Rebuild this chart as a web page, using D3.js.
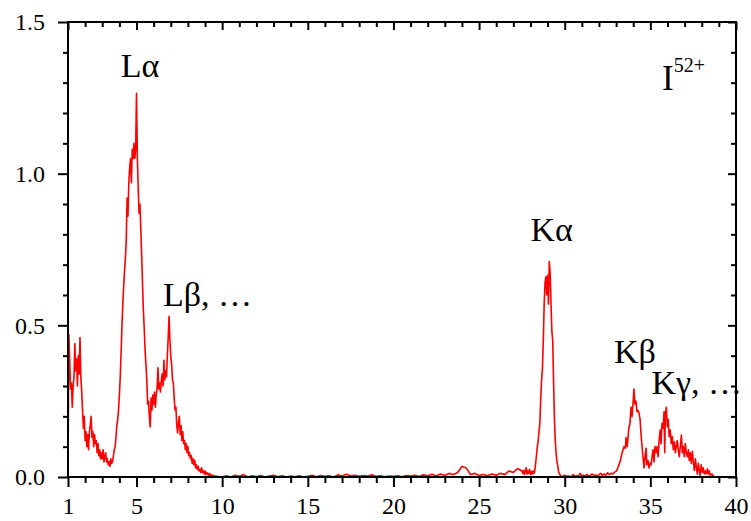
<!DOCTYPE html>
<html>
<head>
<meta charset="utf-8">
<script src="https://cdn.jsdelivr.net/npm/d3@7"></script>
<style>
  html, body { margin: 0; padding: 0; background: #fff; }
  svg { display: block; }
</style>
</head>
<body>
<svg id="chart" width="751" height="521"></svg>
<script>
// ---------- DATA ----------
// X-ray spectrum of I52+ (photon energy in keV vs intensity)
const xTickLabels = [1, 5, 10, 15, 20, 25, 30, 35, 40];
const yTickLabels = [0.0, 0.5, 1.0, 1.5];

// L-shell region: 1.00 .. 10.00 keV, step 0.05
const lStart = 1.0, lStep = 0.05;
const lValues = [
  0.00, 0.47, 0.38, 0.29, 0.31, 0.23, 0.30, 0.33, 0.44, 0.35,
  0.39, 0.30, 0.40, 0.34, 0.46, 0.33, 0.28, 0.22, 0.16, 0.20,
  0.12, 0.15, 0.10, 0.14, 0.09, 0.15, 0.17, 0.20, 0.13, 0.15,
  0.10, 0.14, 0.11, 0.12, 0.08, 0.11, 0.07, 0.09, 0.06, 0.08,
  0.06, 0.09, 0.05, 0.07, 0.08, 0.05, 0.06, 0.04, 0.05, 0.035,
  0.06, 0.045, 0.05, 0.07, 0.09, 0.10, 0.13, 0.17, 0.19, 0.22,
  0.27, 0.33, 0.41, 0.50, 0.57, 0.63, 0.68, 0.72, 0.78, 0.92,
  0.86, 0.97, 1.02, 1.05, 0.97, 1.08, 1.05, 1.10, 1.05, 1.08,
  1.265, 1.05, 0.95, 0.87, 0.90, 0.82, 0.73, 0.64, 0.55, 0.49,
  0.42, 0.37, 0.32, 0.24, 0.25, 0.20, 0.165, 0.26, 0.22, 0.27,
  0.24, 0.28, 0.23, 0.27, 0.29, 0.36, 0.29, 0.31, 0.28, 0.32,
  0.34, 0.30, 0.385, 0.32, 0.35, 0.33, 0.40, 0.46, 0.53, 0.45,
  0.40, 0.37, 0.32, 0.31, 0.26, 0.22, 0.23, 0.17, 0.145, 0.18,
  0.20, 0.14, 0.17, 0.12, 0.15, 0.11, 0.12, 0.09, 0.11, 0.08,
  0.10, 0.07, 0.08, 0.06, 0.07, 0.045, 0.06, 0.04, 0.055, 0.03,
  0.04, 0.025, 0.035, 0.02, 0.025, 0.015, 0.03, 0.015, 0.02, 0.01,
  0.02, 0.008, 0.015, 0.01, 0.005, 0.012, 0.004, 0.008, 0.003, 0.006,
  0.002, 0.004, 0.001, 0.003, 0.001, 0.002, 0.0, 0.001, 0.0, 0.001,
  0.0
];

// Quiet region: 10.25 .. 27.5 keV, step 0.25
const midStart = 10.25, midStep = 0.25;
const midValues = [
  0.004, 0.0, 0.006, 0.002, 0.008, 0.0, 0.004, 0.001, 0.005, 0.0,
  0.003, 0.006, 0.001, 0.004, 0.0, 0.003, 0.001, 0.004, 0.0, 0.002,
  0.006, 0.001, 0.005, 0.002, 0.004, 0.0, 0.007, 0.003, 0.009, 0.004,
  0.006, 0.002, 0.005, 0.003, 0.007, 0.002, 0.004, 0.001, 0.003, 0.002,
  0.004, 0.001, 0.005, 0.003, 0.006, 0.002, 0.007, 0.004, 0.009, 0.003,
  0.01, 0.005, 0.012, 0.008, 0.015, 0.035, 0.03, 0.008, 0.012, 0.005,
  0.008, 0.004, 0.01, 0.006, 0.012, 0.008, 0.02, 0.015, 0.028, 0.02
];

// K-alpha region: 27.55 .. 29.80 keV, step 0.05
const kaStart = 27.55, kaStep = 0.05;
const kaValues = [
  0.012, 0.022, 0.008, 0.018, 0.03, 0.01, 0.02, 0.012, 0.025, 0.008,
  0.018, 0.01, 0.02, 0.012, 0.02, 0.045, 0.07, 0.10, 0.12, 0.15,
  0.18, 0.26, 0.32, 0.36, 0.45, 0.57, 0.64, 0.66, 0.60, 0.665,
  0.57, 0.71, 0.67, 0.57, 0.48, 0.45, 0.31, 0.19, 0.12, 0.075,
  0.05, 0.035, 0.015, 0.01, 0.005, 0.003
];

// Quiet region: 29.9 .. 32.9 keV, step 0.1
const gapStart = 29.9, gapStep = 0.1;
const gapValues = [
  0.002, 0.006, 0.001, 0.004, 0.0, 0.003, 0.008, 0.002, 0.005, 0.001,
  0.012, 0.004, 0.006, 0.002, 0.009, 0.003, 0.005, 0.01, 0.004, 0.007,
  0.003, 0.008, 0.012, 0.005, 0.01, 0.006, 0.014, 0.008, 0.012, 0.01, 0.015
];

// K-beta / K-gamma region (energies in keV)
const kbEnergy = [
  33.03, 33.13, 33.23, 33.35, 33.46, 33.54, 33.58, 33.65, 33.74, 33.81,
  33.87, 33.93, 33.99, 34.04, 34.10, 34.16, 34.22, 34.28, 34.34, 34.40,
  34.47, 34.53, 34.59, 34.63, 34.69, 34.75, 34.79, 34.86, 34.92, 34.98,
  35.04, 35.10, 35.16, 35.21, 35.27, 35.33, 35.39, 35.45, 35.51, 35.57,
  35.62, 35.68, 35.74, 35.80, 35.84, 35.87, 35.93, 35.99, 36.04, 36.10,
  36.16, 36.22, 36.28, 36.34, 36.40, 36.46, 36.51, 36.57, 36.63, 36.69,
  36.75, 36.81, 36.87, 36.92, 36.98, 37.04, 37.10, 37.16, 37.22, 37.27,
  37.33, 37.39, 37.45, 37.51, 37.57, 37.63, 37.68, 37.74, 37.80, 37.86,
  37.90, 37.97, 38.03, 38.09, 38.15, 38.21, 38.27, 38.33, 38.38, 38.44,
  38.50, 38.60, 38.72
];
const kbValues = [
  0.02, 0.035, 0.05, 0.08, 0.10, 0.095, 0.13, 0.10, 0.16, 0.177,
  0.23, 0.20, 0.243, 0.29, 0.24, 0.25, 0.215, 0.22, 0.21, 0.19,
  0.13, 0.09, 0.055, 0.03, 0.067, 0.095, 0.04, 0.055, 0.03, 0.045,
  0.04, 0.067, 0.09, 0.05, 0.10, 0.08, 0.10, 0.067, 0.12, 0.155,
  0.11, 0.177, 0.16, 0.215, 0.08, 0.205, 0.23, 0.166, 0.19, 0.133,
  0.155, 0.11, 0.133, 0.09, 0.116, 0.08, 0.10, 0.12, 0.09, 0.067,
  0.10, 0.138, 0.08, 0.10, 0.067, 0.11, 0.08, 0.067, 0.09, 0.055,
  0.08, 0.045, 0.085, 0.05, 0.022, 0.06, 0.035, 0.01, 0.045, 0.02,
  0.005, 0.04, 0.015, 0.03, 0.01, 0.02, 0.01, 0.027, 0.01, 0.02,
  0.005, 0.01, 0.0
];

const annotations = [
  { text: "Lα", x: 4.08, y: 1.32 },
  { text: "Lβ, …", x: 6.55, y: 0.565 },
  { text: "Kα", x: 28.0, y: 0.778 },
  { text: "Kβ", x: 32.88, y: 0.375 },
  { text: "Kγ, …", x: 35.06, y: 0.274 }
];

// ---------- BUILD SERIES ----------
function fromStep(start, step, values) {
  return values.map((v, i) => [+(start + i * step).toFixed(4), v]);
}
const series = [].concat(
  fromStep(lStart, lStep, lValues),
  fromStep(midStart, midStep, midValues),
  fromStep(kaStart, kaStep, kaValues),
  fromStep(gapStart, gapStep, gapValues),
  kbEnergy.map((e, i) => [e, kbValues[i]])
);

// ---------- CHART ----------
const svg = d3.select("#chart");
const m = { left: 68, right: 736, top: 22, bottom: 477 };
const font = "'Liberation Serif', 'Times New Roman', serif";

const x = d3.scaleLinear().domain([1, 40]).range([m.left, m.right]);
const y = d3.scaleLinear().domain([0, 1.5]).range([m.bottom, m.top]);

const minorX = d3.range(2, 40).filter(v => v % 5 !== 0);
const minorY = d3.range(0, 16).map(v => v / 10).filter((v, i) => i % 5 !== 0);

function styleAxis(g) {
  g.select(".domain").remove();
  g.selectAll("line").attr("stroke", "#000").attr("stroke-width", 2);
  g.selectAll("text").attr("fill", "#000").attr("font-family", font).attr("font-size", 24);
}

// bottom major + labels
svg.append("g").attr("transform", `translate(0,${m.bottom})`)
  .call(d3.axisBottom(x).tickValues(xTickLabels).tickSize(10).tickPadding(10).tickFormat(d3.format("d")))
  .call(styleAxis);
svg.append("g").attr("transform", `translate(0,${m.bottom})`)
  .call(d3.axisBottom(x).tickValues(minorX).tickSize(6).tickFormat(""))
  .call(styleAxis);
// top mirrored (inward)
svg.append("g").attr("transform", `translate(0,${m.top})`)
  .call(d3.axisBottom(x).tickValues(xTickLabels).tickSize(8).tickFormat(""))
  .call(styleAxis);
svg.append("g").attr("transform", `translate(0,${m.top})`)
  .call(d3.axisBottom(x).tickValues(minorX).tickSize(5).tickFormat(""))
  .call(styleAxis);
// left major + labels
svg.append("g").attr("transform", `translate(${m.left},0)`)
  .call(d3.axisLeft(y).tickValues(yTickLabels).tickSize(10).tickPadding(13).tickFormat(d3.format(".1f")))
  .call(styleAxis);
svg.append("g").attr("transform", `translate(${m.left},0)`)
  .call(d3.axisLeft(y).tickValues(minorY).tickSize(5).tickFormat(""))
  .call(styleAxis);
// right mirrored (inward)
svg.append("g").attr("transform", `translate(${m.right},0)`)
  .call(d3.axisLeft(y).tickValues(yTickLabels).tickSize(8).tickFormat(""))
  .call(styleAxis);
svg.append("g").attr("transform", `translate(${m.right},0)`)
  .call(d3.axisLeft(y).tickValues(minorY).tickSize(5).tickFormat(""))
  .call(styleAxis);

// spectrum line
const line = d3.line().x(d => x(d[0])).y(d => y(d[1]));
svg.append("path")
  .datum(series)
  .attr("fill", "none")
  .attr("stroke", "#ff0000")
  .attr("stroke-width", 1.6)
  .attr("stroke-linejoin", "round")
  .attr("d", line);

// frame
svg.append("rect")
  .attr("x", m.left).attr("y", m.top)
  .attr("width", m.right - m.left).attr("height", m.bottom - m.top)
  .attr("fill", "none").attr("stroke", "#000").attr("stroke-width", 2);

// annotations
svg.append("g").selectAll("text").data(annotations).join("text")
  .attr("x", d => x(d.x)).attr("y", d => y(d.y))
  .attr("font-family", font).attr("font-size", 34).attr("fill", "#000")
  .text(d => d.text);

// ion label
const ion = svg.append("text")
  .attr("x", x(35.68)).attr("y", y(1.275))
  .attr("font-family", font).attr("font-size", 35).attr("fill", "#000");
ion.append("tspan").text("I");
ion.append("tspan").attr("font-size", 20).attr("dy", -18).text("52+");
</script>
</body>
</html>
